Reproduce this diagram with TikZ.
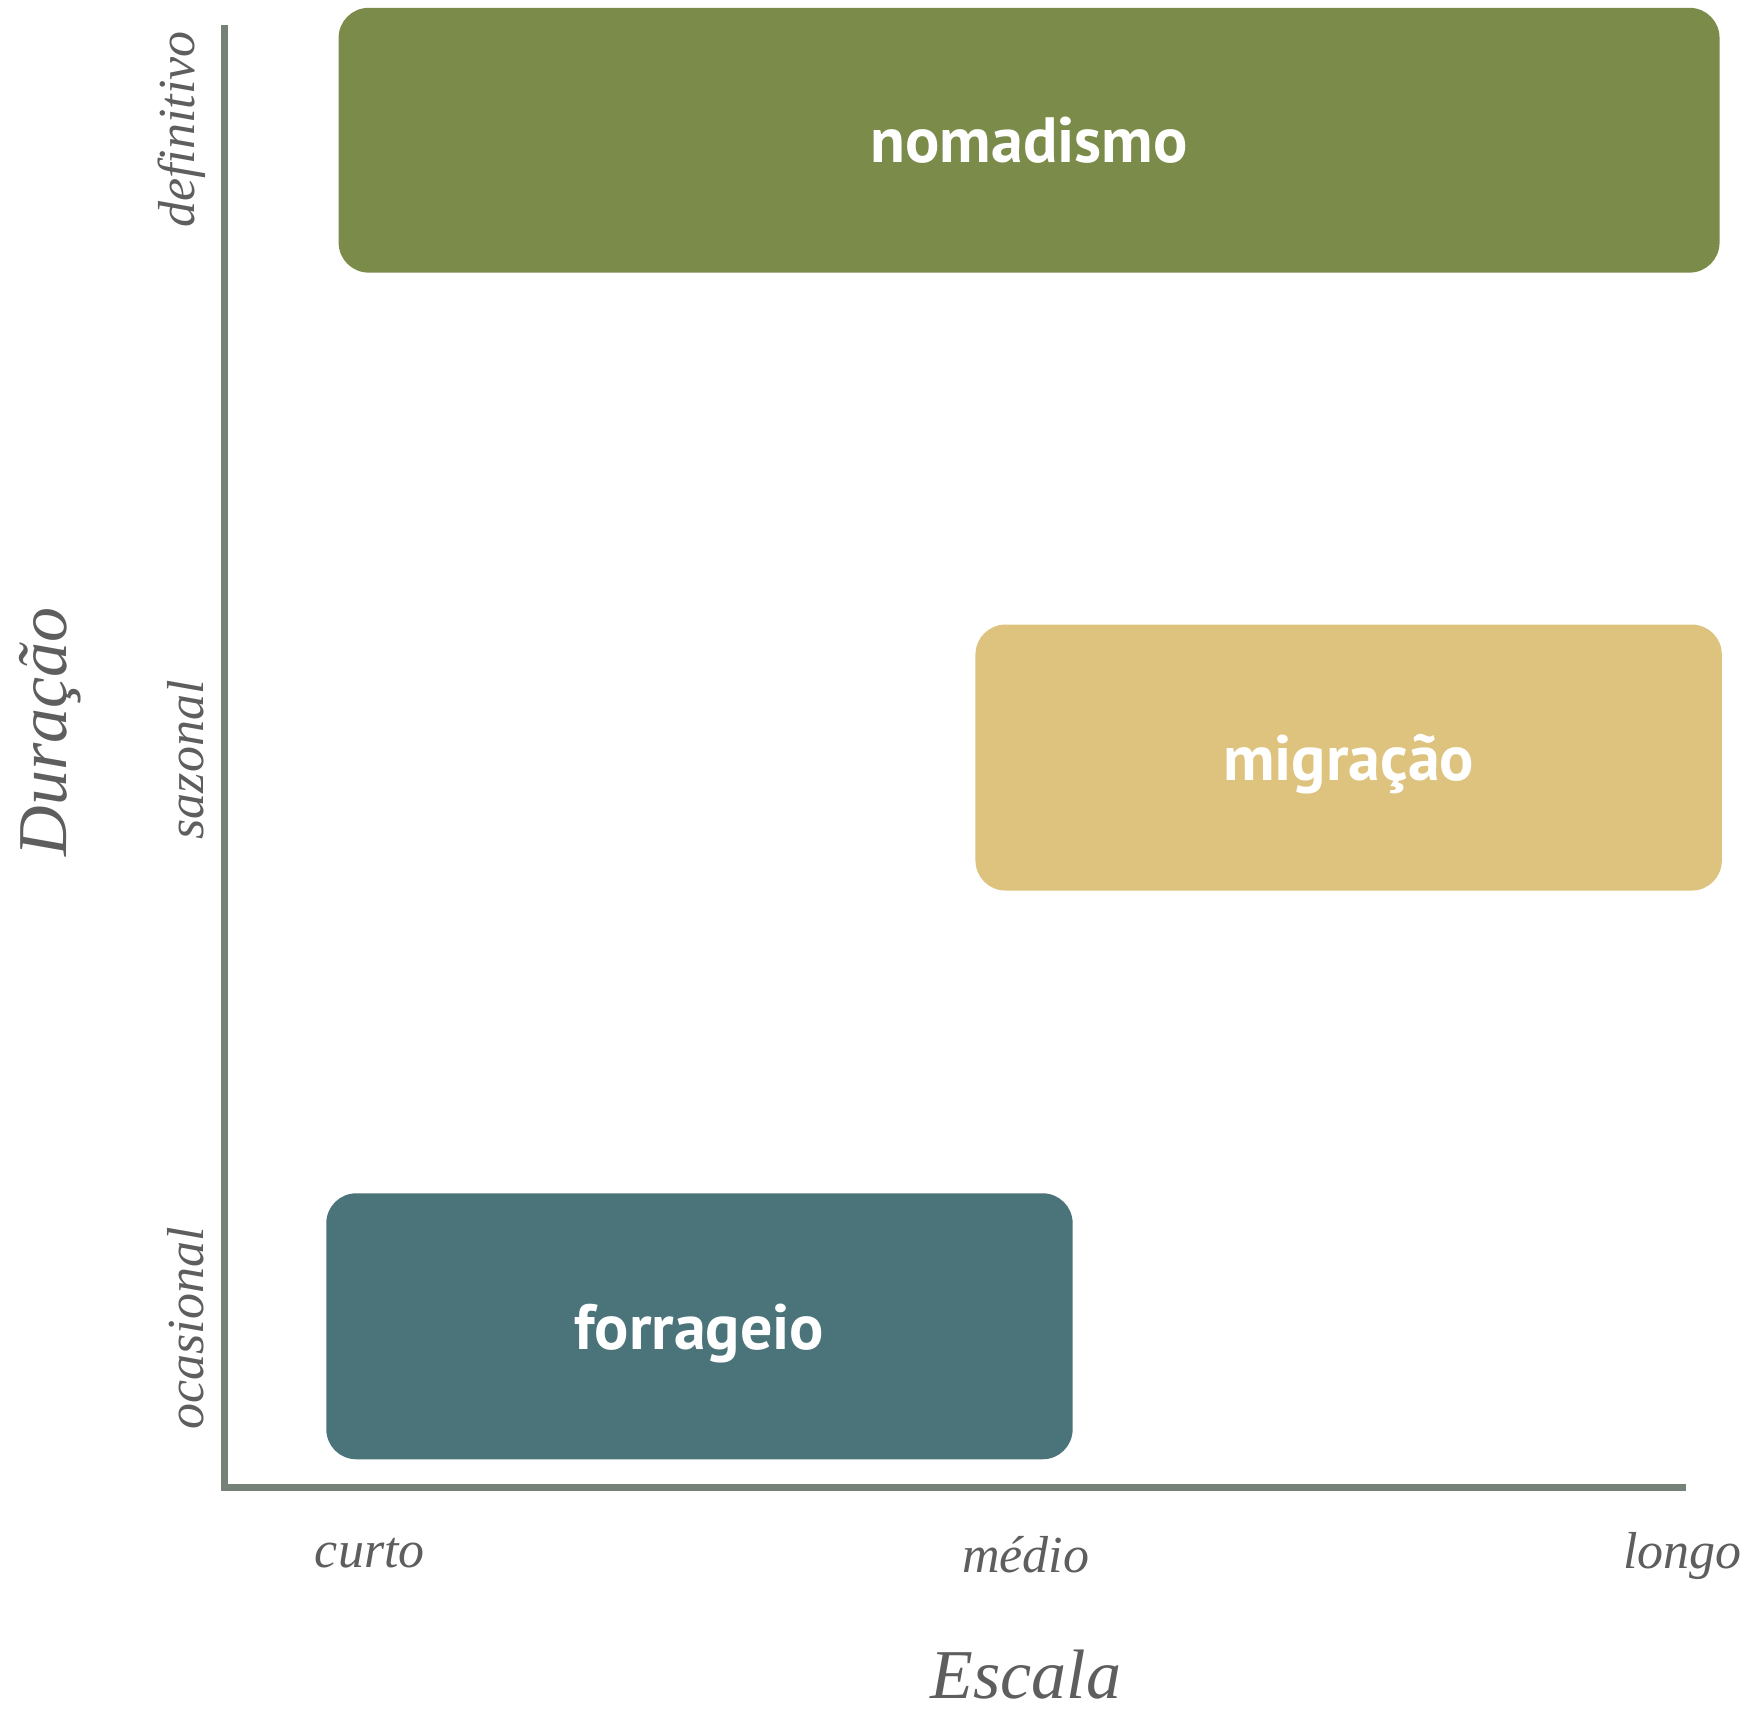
\documentclass[tikz,border=0pt]{standalone}
\usepackage{fontspec}
\setmainfont{Liberation Serif}
\newfontfamily\boxfont{PT Sans}
\definecolor{nomcol}{HTML}{7B8B4A}
\definecolor{migcol}{HTML}{DEC37F}
\definecolor{forcol}{HTML}{4A737A}
\definecolor{axiscol}{HTML}{768178}
\definecolor{labcol}{HTML}{5E5E5E}
\begin{document}
\begin{tikzpicture}[x=0.5587pt,y=-0.5587pt,
  catbox/.style={rounded corners=15pt, inner sep=0pt, text=white, text depth=0pt,
    font=\boxfont\bfseries\fontsize{32}{38}\selectfont},
  axisline/.style={draw=axiscol, line width=3.4pt},
  ticklab/.style={text=labcol, inner sep=0pt, font=\itshape\fontsize{26}{30}\selectfont},
  titlelab/.style={text=labcol, inner sep=0pt, font=\itshape\fontsize{35}{40}\selectfont}]
\useasboundingbox (0,0) rectangle (1568,1531);
% axes
\coordinate (top) at (201,22);
\coordinate (origin) at (201,1331);
\coordinate (right) at (1509,1331);
\draw[axisline] (top) -- (origin) -- (right);
% boxes
\node[catbox, fill=nomcol, minimum width=690.5pt, minimum height=132.4pt] (nom) at (921,125.5) {nomadismo};
\node[catbox, fill=migcol, minimum width=373.2pt, minimum height=133pt] (mig) at (1207,678) {migração};
\node[catbox, fill=forcol, minimum width=373.2pt, minimum height=133pt] (for) at (626,1187) {forrageio};
% y tick labels
\node[ticklab, rotate=90] (def) at (163,116) {definitivo};
\node[ticklab, rotate=90] (saz) at (166,680) {sazonal};
\node[ticklab, rotate=90] (oca) at (166,1189) {ocasional};
\node[titlelab, rotate=90] (dur) at (45,655) {Duração};
% x tick labels
\node[ticklab] (cur) at (331,1390) {curto};
\node[ticklab] (med) at (918,1391) {médio};
\node[ticklab] (lon) at (1506,1393) {longo};
\node[titlelab] (esc) at (918,1499) {Escala};
\end{tikzpicture}
\end{document}
